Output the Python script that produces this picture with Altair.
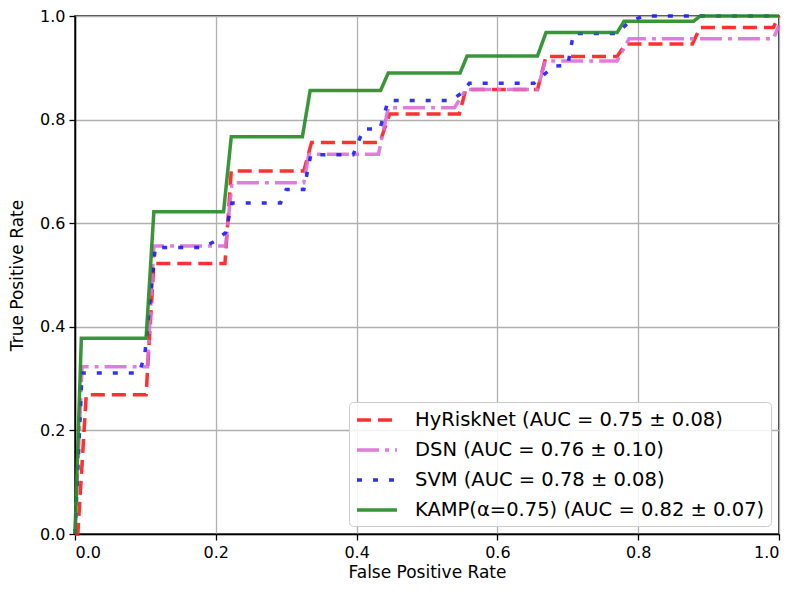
import altair as alt
import pandas as pd

series_names = [
    "HyRiskNet (AUC = 0.75 ± 0.08)",
    "DSN (AUC = 0.76 ± 0.10)",
    "SVM (AUC = 0.78 ± 0.08)",
    "KAMP(α=0.75) (AUC = 0.82 ± 0.07)",
]

hyrisk_fpr = [0.0, 0.004, 0.016, 0.101, 0.112, 0.213, 0.222, 0.325, 0.336, 0.433, 0.447, 0.546, 0.555,
              0.657, 0.669, 0.770, 0.782, 0.877, 0.888, 0.992, 1.0]
hyrisk_tpr = [0.0, 0.0, 0.269, 0.269, 0.522, 0.522, 0.701, 0.701, 0.756, 0.756, 0.811, 0.811, 0.858,
              0.858, 0.922, 0.922, 0.946, 0.946, 0.978, 0.978, 1.0]

dsn_fpr = [0.0, 0.010, 0.103, 0.112, 0.214, 0.223, 0.325, 0.332, 0.431, 0.445, 0.539, 0.555, 0.657,
           0.668, 0.770, 0.787, 0.992, 1.0]
dsn_tpr = [0.0, 0.323, 0.323, 0.556, 0.556, 0.678, 0.678, 0.733, 0.733, 0.823, 0.823, 0.858, 0.858,
           0.913, 0.913, 0.956, 0.956, 0.982]

svm_fpr = [0.0, 0.010, 0.091, 0.099, 0.114, 0.181, 0.200, 0.214, 0.223, 0.292, 0.300, 0.325, 0.335,
           0.395, 0.410, 0.433, 0.445, 0.534, 0.548, 0.560, 0.652, 0.680, 0.700, 0.708, 0.770, 0.787,
           0.808, 1.0]
svm_tpr = [0.0, 0.311, 0.311, 0.344, 0.553, 0.553, 0.566, 0.582, 0.639, 0.639, 0.665, 0.665, 0.732,
           0.732, 0.782, 0.782, 0.837, 0.837, 0.850, 0.870, 0.870, 0.903, 0.905, 0.966, 0.966, 0.989,
           1.0, 1.0]

kamp_fpr = [0.0, 0.009, 0.101, 0.112, 0.211, 0.222, 0.323, 0.334, 0.434, 0.445, 0.547, 0.557, 0.657,
            0.669, 0.770, 0.780, 0.879, 0.888, 1.0]
kamp_tpr = [0.0, 0.378, 0.378, 0.622, 0.622, 0.767, 0.767, 0.856, 0.856, 0.890, 0.890, 0.923, 0.923,
            0.968, 0.968, 0.990, 0.990, 1.0, 1.0]

tick_values = [0.0, 0.2, 0.4, 0.6, 0.8, 1.0]

line_colors = ["#ff1a1a", "#dc6fd8", "#1a1aff", "#228b22"]
line_dashes = [[14, 7], [22, 6, 4, 6], [5, 11], [1, 0]]

rows = []
for name, fpr, tpr in zip(series_names,
                          [hyrisk_fpr, dsn_fpr, svm_fpr, kamp_fpr],
                          [hyrisk_tpr, dsn_tpr, svm_tpr, kamp_tpr]):
    for i, (f, t) in enumerate(zip(fpr, tpr)):
        rows.append({"series": name, "fpr": f, "tpr": t, "idx": i})
df = pd.DataFrame(rows)

FONT = "DejaVu Sans"

legend = alt.Legend(
    title=None,
    orient="bottom-right",
    offset=8,
    symbolType="M-1,0H3",
    symbolSize=400,
    symbolStrokeWidth=3.5,
    labelFontSize=19.5,
    labelFont=FONT,
    labelColor="black",
    labelLimit=600,
    labelOffset=36,
    rowPadding=8,
    padding=6,
    fillColor="rgba(255,255,255,0.85)",
    strokeColor="#cccccc",
    cornerRadius=4,
)

chart = alt.Chart(df).mark_line(strokeWidth=3.5, opacity=0.9).encode(
    x=alt.X("fpr:Q",
            scale=alt.Scale(domain=[0, 1], nice=False, zero=False),
            axis=alt.Axis(title="False Positive Rate", values=tick_values, format=".1f",
                          titlePadding=4)),
    y=alt.Y("tpr:Q",
            scale=alt.Scale(domain=[0, 1], nice=False, zero=False),
            axis=alt.Axis(title="True Positive Rate", values=tick_values, format=".1f",
                          titlePadding=13)),
    color=alt.Color("series:N", scale=alt.Scale(domain=series_names, range=line_colors),
                    legend=legend),
    strokeDash=alt.StrokeDash("series:N", scale=alt.Scale(domain=series_names, range=line_dashes),
                              legend=legend),
    order=alt.Order("idx:Q"),
).properties(
    width=704,
    height=518,
    autosize=alt.AutoSizeParams(type="none"),
    padding={"left": 67, "top": 8, "right": 13, "bottom": 48},
).configure_view(
    stroke="black", strokeWidth=1.5
).configure_axis(
    labelFont=FONT, labelFontSize=16, labelColor="black",
    titleFont=FONT, titleFontSize=17, titleFontWeight="normal", titleColor="black",
    domainColor="black", domainWidth=1.5,
    tickColor="black", tickSize=6, tickWidth=1.3,
    labelPadding=4,
    grid=True, gridColor="#b0b0b0", gridWidth=1.3,
)

chart.save("out.html", embed_options={"renderer": "svg", "actions": False})
